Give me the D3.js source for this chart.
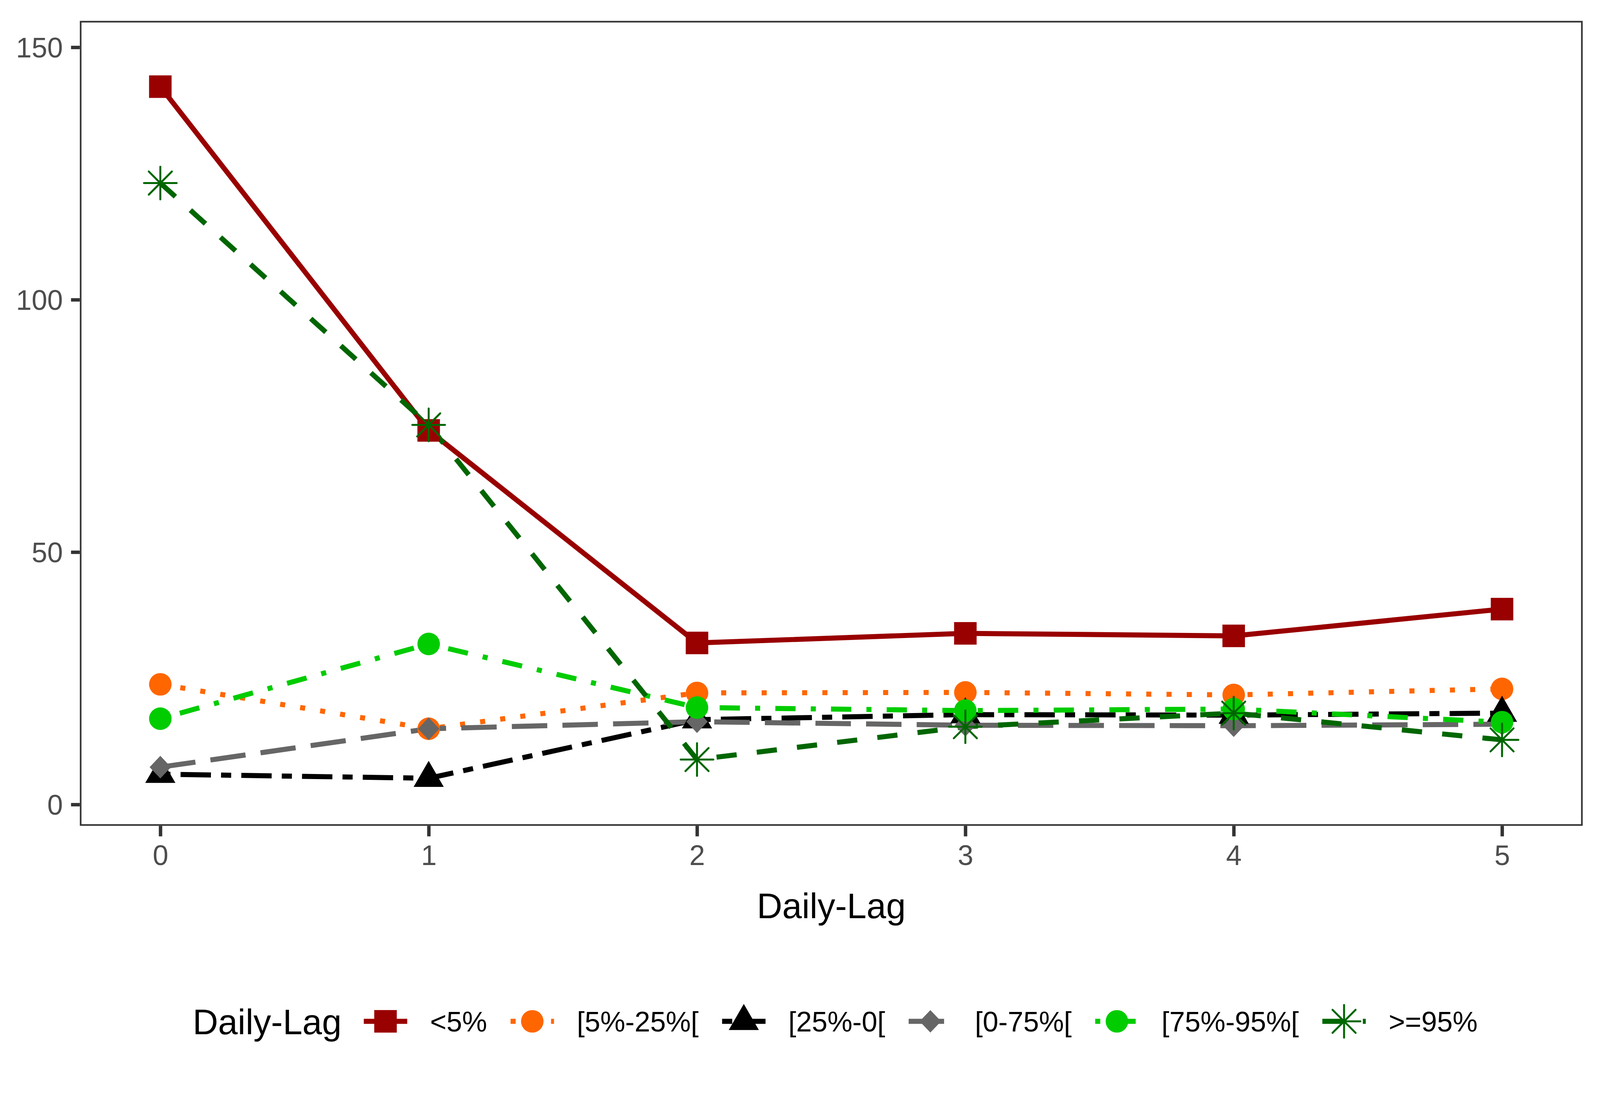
<!DOCTYPE html>
<html>
<head>
<meta charset="utf-8">
<script src="https://cdn.jsdelivr.net/npm/d3@7"></script>
<style>
  html, body { margin: 0; padding: 0; background: #ffffff; overflow: hidden; }
  svg { display: block; font-family: "Liberation Sans", Arial, Helvetica, sans-serif; }
</style>
</head>
<body>
<svg id="chart"></svg>
<script>
// ---- data ----
const lags = [0, 1, 2, 3, 4, 5];
const seriesNames = ["<5%", "[5%-25%[", "[25%-0[", "[0-75%[", "[75%-95%[", ">=95%"];
const valsLt5     = [142.2, 74.1, 32.0, 33.9, 33.4, 38.7];
const vals5to25   = [23.8, 15.0, 22.1, 22.2, 21.7, 22.9];
const vals25to0   = [6.0, 5.2, 16.8, 17.8, 17.7, 18.1];
const vals0to75   = [7.4, 15.0, 16.4, 15.7, 15.6, 15.9];
const vals75to95  = [17.0, 31.8, 19.2, 18.6, 18.9, 16.3];
const valsGe95    = [123.1, 75.2, 8.9, 15.4, 18.1, 12.8];
const yTicks = [0, 50, 100, 150];
const xTicks = [0, 1, 2, 3, 4, 5];
const xTitle = "Daily-Lag";
const legendTitle = "Daily-Lag";

// ---- viewport scaling (design space is 4900 x 2800) ----
const W = window.innerWidth || 4900;
const H = window.innerHeight || 2800;
const sx = W / 4900, sy = H / 2800, k = Math.min(sx, sy);
const X = v => v * sx, Y = v => v * sy, S = v => v * k;

// ---- styles ----
const U = S(15.5); // dash unit (line width)
const styles = [
  { color: "#990000", dash: null,         shape: "square" },
  { color: "#FF6600", dash: [1, 3],       shape: "circle" },
  { color: "#000000", dash: [2, 2, 6, 2], shape: "triangle" },
  { color: "#666666", dash: [7, 3],       shape: "diamond" },
  { color: "#00CC00", dash: [1, 3, 4, 3], shape: "circle" },
  { color: "#006600", dash: [4, 4],       shape: "star" }
];
const allVals = [valsLt5, vals5to25, vals25to0, vals0to75, vals75to95, valsGe95];
const series = seriesNames.map((name, i) => ({
  name, ...styles[i],
  points: lags.map((l, j) => ({ x: l, y: allVals[i][j] }))
}));

// ---- layout ----
const svg = d3.select("#chart").attr("width", W).attr("height", H);
svg.append("rect").attr("width", W).attr("height", H).attr("fill", "#ffffff");

const panel = { left: X(247), right: X(4844.5), top: Y(55.5), bottom: Y(2111.5) };
const x = d3.scaleLinear().domain([0, 5]).range([X(491), X(4600)]);
const y = d3.scaleLinear().domain([0, 150]).range([Y(2059), Y(121)]);
const tickFont = S(86) + "px";

// axes
const yAxis = d3.axisLeft(y).tickValues(yTicks).tickSize(X(27)).tickPadding(X(25)).tickFormat(d3.format("d"));
const gy = svg.append("g").attr("transform", `translate(${panel.left - S(2.5)},0)`).call(yAxis);
gy.select(".domain").remove();
gy.selectAll("line").attr("stroke", "#333333").attr("stroke-width", S(10.5));
gy.selectAll("text").attr("fill", "#4D4D4D").style("font-size", tickFont)
  .style("font-family", '"Liberation Sans", Arial, sans-serif').attr("dy", "0.36em");

const xAxis = d3.axisBottom(x).tickValues(xTicks).tickSize(Y(27)).tickPadding(Y(22)).tickFormat(d3.format("d"));
const gx = svg.append("g").attr("transform", `translate(0,${panel.bottom + S(2.5)})`).call(xAxis);
gx.select(".domain").remove();
gx.selectAll("line").attr("stroke", "#333333").attr("stroke-width", S(10.5));
gx.selectAll("text").attr("fill", "#4D4D4D").style("font-size", tickFont)
  .style("font-family", '"Liberation Sans", Arial, sans-serif');

// clip for data
svg.append("clipPath").attr("id", "pclip").append("rect")
  .attr("x", panel.left).attr("y", panel.top)
  .attr("width", panel.right - panel.left).attr("height", panel.bottom - panel.top);

const plot = svg.append("g").attr("clip-path", "url(#pclip)");
const line = d3.line().x(d => x(d.x)).y(d => y(d.y));

// lines first
plot.selectAll("path.series").data(series).join("path")
  .attr("class", "series")
  .attr("d", d => line(d.points))
  .attr("fill", "none")
  .attr("stroke", d => d.color)
  .attr("stroke-width", U)
  .attr("stroke-linecap", "butt")
  .attr("stroke-linejoin", "round")
  .attr("stroke-dasharray", d => d.dash ? d.dash.map(v => v * U).join(",") : null);

// marker drawing
function drawMarker(g, shape, color, cx, cy) {
  if (shape === "square") {
    const h = S(34.5);
    g.append("rect").attr("x", cx - h).attr("y", cy - h)
      .attr("width", 2 * h).attr("height", 2 * h).attr("fill", color);
  } else if (shape === "circle") {
    g.append("circle").attr("cx", cx).attr("cy", cy).attr("r", S(34.5)).attr("fill", color);
  } else if (shape === "triangle") {
    const s = S(34.3);
    const pts = [[cx, cy - 1.5551 * s], [cx + 1.3468 * s, cy + 0.7776 * s], [cx - 1.3468 * s, cy + 0.7776 * s]];
    g.append("polygon").attr("points", pts.map(p => p.join(",")).join(" ")).attr("fill", color);
  } else if (shape === "diamond") {
    const r = S(34.5);
    const pts = [[cx, cy - r], [cx + r * 0.95, cy], [cx, cy + r], [cx - r * 0.95, cy]];
    g.append("polygon").attr("points", pts.map(p => p.join(",")).join(" ")).attr("fill", color);
  } else if (shape === "star") {
    const r = S(50), d = r * Math.SQRT1_2;
    const segs = [[-r, 0, r, 0], [0, -r, 0, r], [-d, -d, d, d], [-d, d, d, -d]];
    segs.forEach(s => g.append("line")
      .attr("x1", cx + s[0]).attr("y1", cy + s[1]).attr("x2", cx + s[2]).attr("y2", cy + s[3])
      .attr("stroke", color).attr("stroke-width", S(6)).attr("stroke-linecap", "round"));
  }
}

// points after lines
series.forEach(s => {
  const g = plot.append("g");
  s.points.forEach(p => drawMarker(g, s.shape, s.color, x(p.x), y(p.y)));
});

// panel border
svg.append("rect")
  .attr("x", panel.left).attr("y", panel.top)
  .attr("width", panel.right - panel.left).attr("height", panel.bottom - panel.top)
  .attr("fill", "none").attr("stroke", "#333333").attr("stroke-width", S(5));

// x axis title
svg.append("text")
  .attr("x", (panel.left + panel.right) / 2).attr("y", Y(2350))
  .attr("text-anchor", "middle").attr("fill", "#000000")
  .style("font-size", S(108) + "px").text(xTitle);

// legend
const legY = Y(2614);
const leg = svg.append("g");
let cursor = X(590);
const lt = leg.append("text").attr("x", cursor).attr("y", legY).attr("dy", "0.36em")
  .attr("fill", "#000000").style("font-size", S(108) + "px").text(legendTitle);
cursor += lt.node().getComputedTextLength() + X(68);
const keyW = X(133);
series.forEach(s => {
  const kg = leg.append("g");
  kg.append("line").attr("x1", cursor).attr("x2", cursor + keyW)
    .attr("y1", legY).attr("y2", legY)
    .attr("stroke", s.color).attr("stroke-width", U)
    .attr("stroke-dasharray", s.dash ? s.dash.map(v => v * U).join(",") : null);
  drawMarker(kg, s.shape, s.color, cursor + keyW / 2, legY);
  cursor += keyW + X(70);
  const t = kg.append("text").attr("x", cursor).attr("y", legY).attr("dy", "0.36em")
    .attr("fill", "#000000").style("font-size", S(86) + "px").text(s.name);
  cursor += t.node().getComputedTextLength() + X(72);
});
</script>
</body>
</html>
